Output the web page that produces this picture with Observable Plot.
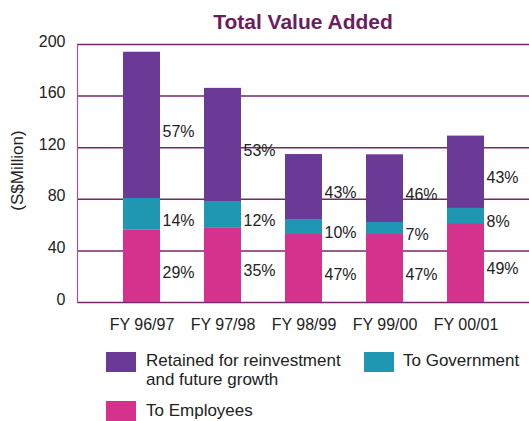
<!DOCTYPE html>
<html>
<head>
<meta charset="utf-8">
<script src="https://cdn.jsdelivr.net/npm/d3@7"></script>
<script src="https://cdn.jsdelivr.net/npm/@observablehq/plot@0.6"></script>
<style>
  html, body { margin: 0; padding: 0; background: #fff; }
  body { width: 529px; height: 421px; overflow: hidden; font-family: "Liberation Sans", Arial, sans-serif; color: #222; }
  #title { box-sizing: border-box; height: 34px; padding-top: 10.5px; padding-left: 77px; text-align: center;
           font-size: 21px; line-height: 21px; font-weight: bold; color: #6b1d5e; }
  #chart svg { display: block; }
  #legend { position: relative; height: 81px; overflow: hidden; font-size: 17px; line-height: 19px; }
  .sw { position: absolute; width: 30px; height: 20px; }
  .lt { position: absolute; }
</style>
</head>
<body>
<div id="title"></div>
<div id="chart"></div>
<div id="legend"></div>
<script>
const titleText = "Total Value Added";
const yLabel = "(S$Million)";
const years = ["FY 96/97", "FY 97/98", "FY 98/99", "FY 99/00", "FY 00/01"];
const employees = [56, 58, 52.7, 52.7, 61.2];
const government = [24.6, 20.3, 11.6, 9.3, 11.7];
const retained = [113.4, 87.7, 50.4, 52.5, 56.1];
const pctEmployees = ["29%", "35%", "47%", "47%", "49%"];
const pctGovernment = ["14%", "12%", "10%", "7%", "8%"];
const pctRetained = ["57%", "53%", "43%", "46%", "43%"];
const seriesNames = ["Retained for reinvestment and future growth", "To Government", "To Employees"];
const seriesColors = ["#6b3a96", "#1f97b3", "#d5328e"];
const yTicks = [0, 40, 80, 120, 160, 200];

// build stacked rows (bottom to top: employees, government, retained)
const rows = [];
years.forEach((yr, i) => {
  const parts = [
    {series: seriesNames[2], v: employees[i], pct: pctEmployees[i]},
    {series: seriesNames[1], v: government[i], pct: pctGovernment[i]},
    {series: seriesNames[0], v: retained[i], pct: pctRetained[i]}
  ];
  let base = 0;
  for (const p of parts) {
    rows.push({year: yr, series: p.series, y1: base, y2: base + p.v, pct: p.pct});
    base += p.v;
  }
});

document.getElementById("title").textContent = titleText;

const plot = Plot.plot({
  width: 529,
  height: 306,
  marginTop: 10,
  marginBottom: 38,
  marginLeft: 77,
  marginRight: 0,
  style: {fontFamily: "'Liberation Sans', Arial, sans-serif", fontSize: "16px", color: "#222", background: "#fff", overflow: "visible"},
  x: {domain: years, paddingInner: 0.545, paddingOuter: 0.55, label: null},
  y: {domain: [0, 200], label: null},
  color: {domain: seriesNames, range: seriesColors},
  marks: [
    Plot.gridY(yTicks, {stroke: "#74276a", strokeOpacity: 1, strokeWidth: 1.5}),
    Plot.frame({anchor: "left", stroke: "#9b5b90", strokeWidth: 1.2}),
    Plot.barY(rows, {x: "year", y1: "y1", y2: "y2", fill: "series"}),
    Plot.text(rows, {x: "year", y: d => (d.y1 + d.y2) / 2, text: "pct", textAnchor: "start", dx: 20.5, dy: 6, fill: "#222", fontSize: 16}),
    Plot.axisX({tickSize: 0, tickPadding: 16, fontSize: 16, label: null}),
    Plot.axisY({ticks: yTicks, tickSize: 0, tickPadding: 12, dy: -3, fontSize: 16, label: null}),
    Plot.text([yLabel], {frameAnchor: "left", textAnchor: "middle", text: d => d, rotate: -90, dx: -60, dy: -3, fontSize: 17, fill: "#222"})
  ]
});
document.getElementById("chart").appendChild(plot);

// legend below the chart
const legend = document.getElementById("legend");
const items = [
  {name: seriesNames[0], color: seriesColors[0], sx: 106, sy: 12, tx: 146, ty: 11, w: 215},
  {name: seriesNames[1], color: seriesColors[1], sx: 364, sy: 12, tx: 403, ty: 11, w: 130},
  {name: seriesNames[2], color: seriesColors[2], sx: 106, sy: 61, tx: 146, ty: 61, w: 200}
];
for (const it of items) {
  const s = document.createElement("div");
  s.className = "sw";
  s.style.left = it.sx + "px"; s.style.top = it.sy + "px"; s.style.background = it.color;
  legend.appendChild(s);
  const t = document.createElement("div");
  t.className = "lt";
  t.style.left = it.tx + "px"; t.style.top = it.ty + "px"; t.style.width = it.w + "px";
  t.textContent = it.name;
  legend.appendChild(t);
}
</script>
</body>
</html>
